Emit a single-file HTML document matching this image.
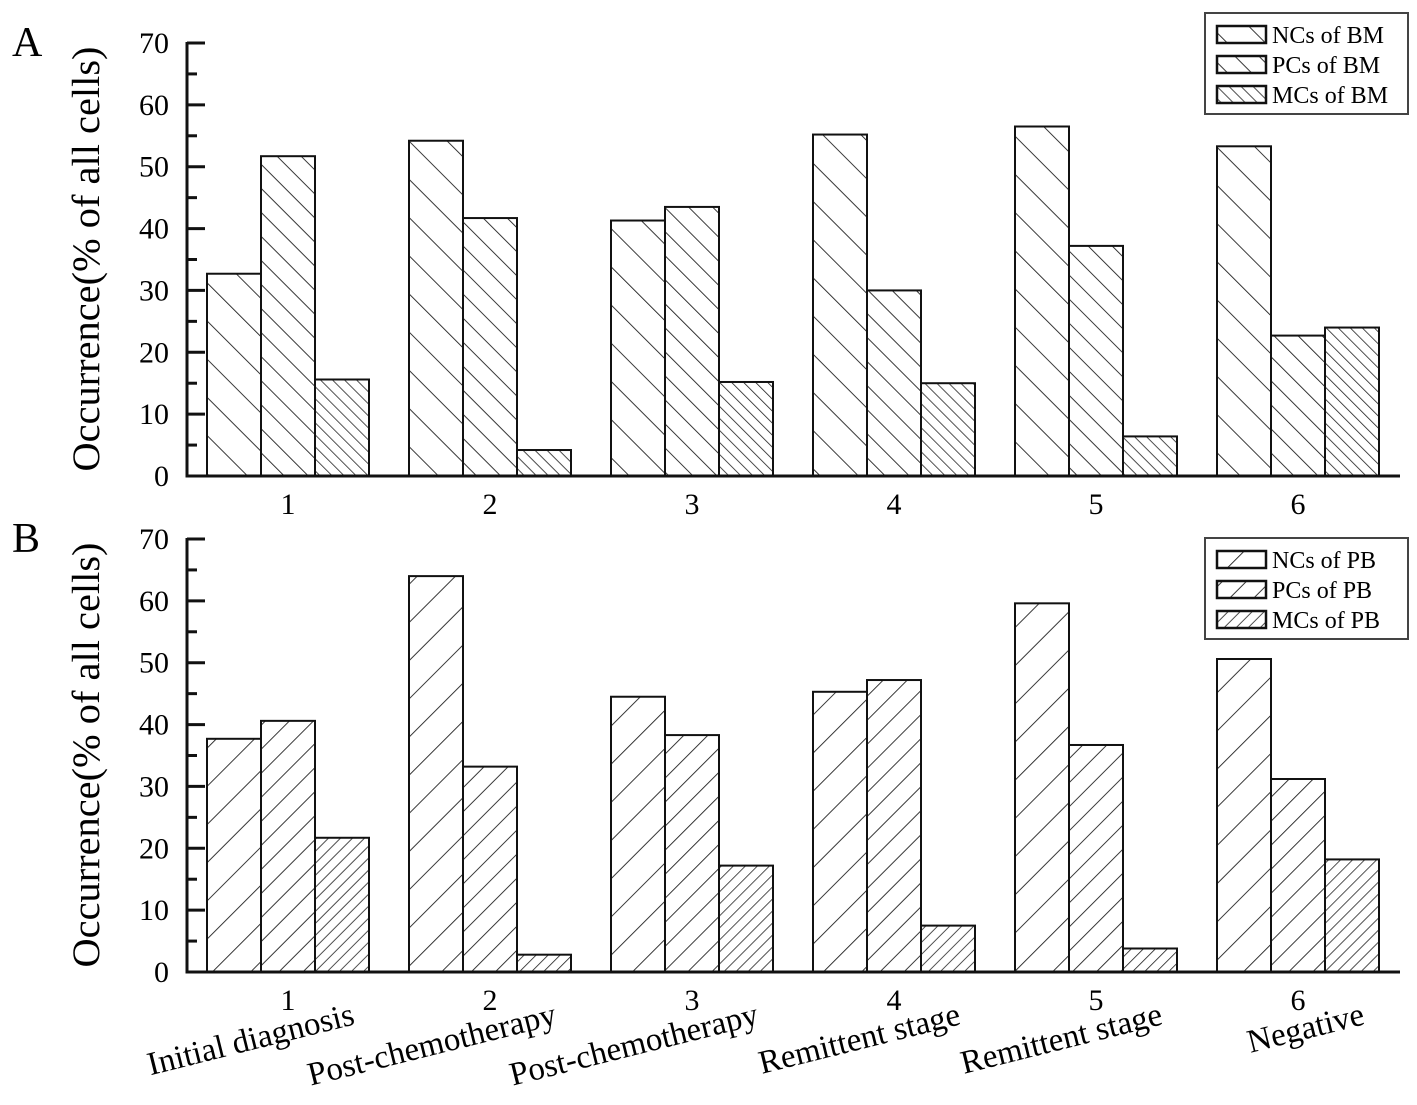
<!DOCTYPE html>
<html><head><meta charset="utf-8"><style>
html,body{margin:0;padding:0;background:#fff}
svg{display:block;font-family:"Liberation Serif",serif}
</style></head><body>
<svg id="chart" width="1417" height="1105" viewBox="0 0 1417 1105" xmlns="http://www.w3.org/2000/svg">
<defs>
<pattern id="bs27" patternUnits="userSpaceOnUse" width="27" height="27" patternTransform="rotate(-45)"><line x1="0" y1="0" x2="0" y2="27" stroke="#222" stroke-width="1.8"/></pattern>
<pattern id="bs18" patternUnits="userSpaceOnUse" width="17" height="17" patternTransform="rotate(-45)"><line x1="0" y1="0" x2="0" y2="17" stroke="#222" stroke-width="1.8"/></pattern>
<pattern id="bs9" patternUnits="userSpaceOnUse" width="8.5" height="8.5" patternTransform="rotate(-45)"><line x1="0" y1="0" x2="0" y2="8.5" stroke="#222" stroke-width="1.6"/></pattern>
<pattern id="fs27" patternUnits="userSpaceOnUse" width="27" height="27" patternTransform="rotate(45)"><line x1="0" y1="0" x2="0" y2="27" stroke="#222" stroke-width="1.8"/></pattern>
<pattern id="fs18" patternUnits="userSpaceOnUse" width="17" height="17" patternTransform="rotate(45)"><line x1="0" y1="0" x2="0" y2="17" stroke="#222" stroke-width="1.8"/></pattern>
<pattern id="fs9" patternUnits="userSpaceOnUse" width="8.5" height="8.5" patternTransform="rotate(45)"><line x1="0" y1="0" x2="0" y2="8.5" stroke="#222" stroke-width="1.6"/></pattern>
</defs>
</svg>
<script>
const categories = ["1","2","3","4","5","6"];
const stageLabels = ["Initial diagnosis","Post-chemotherapy","Post-chemotherapy","Remittent stage","Remittent stage","Negative"];
const yTicks = [0,10,20,30,40,50,60,70];
const seriesNamesA = ["NCs of BM","PCs of BM","MCs of BM"];
const seriesNamesB = ["NCs of PB","PCs of PB","MCs of PB"];
const ncBM = [32.7,54.2,41.3,55.2,56.5,53.3];
const pcBM = [51.7,41.7,43.5,30.0,37.2,22.7];
const mcBM = [15.6,4.2,15.2,15.0,6.4,24.0];
const ncPB = [37.7,64.0,44.5,45.3,59.6,50.6];
const pcPB = [40.6,33.2,38.3,47.2,36.7,31.2];
const mcPB = [21.7,2.8,17.2,7.5,3.8,18.2];

const NS="http://www.w3.org/2000/svg";
const svg=document.getElementById('chart');
function mk(tag,attrs,parent){const e=document.createElementNS(NS,tag);for(const k in attrs)e.setAttribute(k,attrs[k]);(parent||svg).appendChild(e);return e;}
const axL=187, axR=1400, barW=54, groupStep=202, firstCenter=288;
function xC(i){return firstCenter+i*groupStep;}

function panel(letter,y0,series,names,pats,legY,showStages){
  const yS=v=>y0-v*(433/70);
  const g=mk('g',{});
  
  
  const pl=mk('text',{x:12,y:y0-420,'font-size':42},g);pl.textContent=letter;
  
  
  const yt=mk('text',{transform:`translate(99,${y0-217}) rotate(-90)`,'text-anchor':'middle','font-size':39,textLength:425,lengthAdjust:'spacingAndGlyphs'},g);
  yt.textContent='Occurrence(% of all cells)';
  
  
  series.forEach((vals,s)=>{
    vals.forEach((v,i)=>{
      const x=xC(i)-81+s*barW;
      const r=mk('rect',{x:x,y:yS(v),width:barW,height:y0-yS(v),fill:`url(#${pats[s]})`,stroke:'#111','stroke-width':2},g);
      
      
    });
  });
  const ya=mk('line',{x1:axL,y1:yS(70)-1,x2:axL,y2:y0+1.5,stroke:'#111','stroke-width':3},g);
  
  
  const xa=mk('line',{x1:axL-1.5,y1:y0,x2:axR,y2:y0,stroke:'#111','stroke-width':3},g);
  
  
  yTicks.forEach(t=>{
    mk('line',{x1:axL,y1:yS(t),x2:axL+18,y2:yS(t),stroke:'#111','stroke-width':3},g);
    if(t<70) mk('line',{x1:axL,y1:yS(t+5),x2:axL+10,y2:yS(t+5),stroke:'#111','stroke-width':3},g);
    const tl=mk('text',{x:169,y:yS(t)+10,'text-anchor':'end','font-size':30},g);tl.textContent=t;
    
    
  });
  categories.forEach((c,i)=>{
    const tl=mk('text',{x:xC(i),y:y0+38,'text-anchor':'middle','font-size':30},g);tl.textContent=c;
    
    
    if(showStages){
      const sl=mk('text',{transform:`translate(${xC(i)+68},${y0+52}) rotate(-14)`,'text-anchor':'end','font-size':33},g);
      sl.textContent=stageLabels[i];
      
      
    }
  });
  const lg=mk('g',{},g);
  
  
  mk('rect',{x:1205,y:legY,width:203,height:101,fill:'#fff',stroke:'#444','stroke-width':2},lg);
  names.forEach((n,s)=>{
    const yy=legY+13+s*30;
    const sw=mk('rect',{x:1217,y:yy,width:49,height:17,fill:`url(#${pats[s]})`,stroke:'#111','stroke-width':2.5},lg);
    
    
    const lt=mk('text',{x:1272,y:yy+17,'font-size':24},lg);lt.textContent=n;
    
    
  });
}
panel('A',476,[ncBM,pcBM,mcBM],seriesNamesA,['bs27','bs18','bs9'],13,false);
panel('B',972,[ncPB,pcPB,mcPB],seriesNamesB,['fs27','fs18','fs9'],538,true);
</script>
</body></html>
